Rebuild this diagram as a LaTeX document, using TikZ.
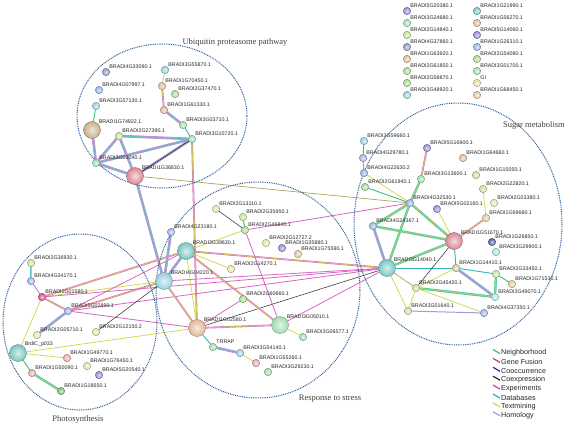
\documentclass[tikz,border=0pt]{standalone}
\usepackage{fontspec}
\setmainfont{Liberation Serif}
\setsansfont{Liberation Sans}
\usetikzlibrary{backgrounds}

%evidence colours
\definecolor{cNb}{HTML}{3CC070}
\definecolor{cFus}{HTML}{E0306A}
\definecolor{cCoo}{HTML}{2A2AA0}
\definecolor{cCox}{HTML}{25252F}
\definecolor{cExp}{HTML}{D040B0}
\definecolor{cDb}{HTML}{30B4C0}
\definecolor{cTxt}{HTML}{CCD840}
\definecolor{cHom}{HTML}{A898D8}
\definecolor{cOlv}{HTML}{A8A858}
\definecolor{cDot}{HTML}{2F5F9A}
%ball colours
\definecolor{cSlate}{HTML}{8898C8}
\definecolor{cSky}{HTML}{90B4DC}
\definecolor{cAqua}{HTML}{98D0DC}
\definecolor{cTan}{HTML}{C8AE88}
\definecolor{cLime}{HTML}{C8E0A0}
\definecolor{cMint}{HTML}{A0DCB0}
\definecolor{cRose}{HTML}{D88898}
\definecolor{cPeach}{HTML}{E0B898}
\definecolor{cLeaf}{HTML}{A8D890}
\definecolor{cYell}{HTML}{E4E2A8}
\definecolor{cBlue}{HTML}{A0B0E4}
\definecolor{cTeal}{HTML}{78C8C0}
\definecolor{cPurp}{HTML}{9088D4}
\definecolor{cPink}{HTML}{E8A8A8}
\definecolor{cMag}{HTML}{D04C84}
\definecolor{cNavy}{HTML}{505C9C}
\definecolor{cCyan}{HTML}{A8E4E8}
\definecolor{cOliv}{HTML}{D0CC98}
\definecolor{cGreen}{HTML}{70C070}
\definecolor{cSand}{HTML}{E0C8A0}

\tikzset{
	gene/.style={circle, inner sep=0pt, minimum size=7.5pt, inner color=#1!30!white, outer color=#1, draw=#1!60!black, line width=0.3pt},
	biggene/.style={gene=#1, minimum size=17pt},
	lab/.style={font=\fontsize{5.3}{5.3}\sffamily, inner sep=0.5pt, text=black!85},
	title/.style={font=\fontsize{8.5}{9}\selectfont, text=black!75},
	leg/.style={font=\fontsize{7.2}{7.2}\sffamily, inner sep=0.5pt, text=black!85},
	group/.style={draw=cDot, line width=1pt, dash pattern=on 0.9pt off 0.9pt},
	txtm/.style={draw=cTxt, line width=0.7pt},
	expe/.style={draw=cExp!80!white, line width=0.8pt},
	coex/.style={draw=cCox, line width=0.5pt},
	dbase/.style={draw=cDb, line width=0.9pt},
	nbhd/.style={draw=cNb, line width=0.9pt},
	homol/.style={draw=cHom, line width=1pt},
	olv/.style={draw=cOlv, line width=0.7pt},
	expx/.style={draw=cExp!70!white, line width=1.8pt, postaction={draw=cTxt, line width=0.6pt}},
	mixb/.style={draw=cHom, line width=2.6pt, postaction={draw=cExp!60!white, line width=1.7pt}, postaction={draw=cDb!80!white, line width=0.9pt}},
	grnb/.style={draw=cNb!80!white, line width=2.4pt, postaction={draw=cDb!80!white, line width=1.3pt}, postaction={draw=cTxt, line width=0.5pt}},
}

\begin{document}
\begin{tikzpicture}[x=1pt, y=-1pt]
		\useasboundingbox (0,0) rectangle (567,428);
		%draw group outlines
		\draw[group] (162,116) ellipse [x radius=85, y radius=72];
		\draw[group] (458,224) ellipse [x radius=104, y radius=121];
		\draw[group] (258,290) ellipse [x radius=102, y radius=108];
		\draw[group] (80,322) ellipse [x radius=77, y radius=88];
		\node[title] (tUbi) at (235,42) {Ubiquitin proteasome pathway};
		\node[title] (tSug) at (534,125) {Sugar metabolism};
		\node[title] (tRes) at (330,399) {Response to stress};
		\node[title] (tPho) at (78,419) {Photosynthesis};

		%ubiquitin proteasome pathway
		\node[gene=cSlate, label={[lab]north east:BRADI4G33090.1}] (u4G33090) at (106,72) {};
		\node[gene=cSky, label={[lab]north east:BRADI4G07997.1}] (u4G07997) at (99,90) {};
		\node[gene=cAqua, label={[lab]north east:BRADI3G57130.1}] (u3G57130) at (96,106) {};
		\node[biggene=cTan, label={[lab]north east:BRADI1G74922.1}] (u1G74922) at (92,130) {};
		\node[gene=cLime, label={[lab]north east:BRADI2G27390.1}] (u2G27390) at (119,136) {};
		\node[gene=cMint, label={[lab]north east:BRADI3G03040.1}] (u3G03040) at (96,163) {};
		\node[biggene=cRose, label={[lab]north east:BRADI1G36830.1}] (u1G36830) at (135,176) {};
		\node[gene=cMint, label={[lab]north east:BRADI3G10720.1}] (u3G10720) at (192,139) {};
		\node[gene=cMint, label={[lab]north east:BRADI3G03710.1}] (u3G03710) at (183,125) {};
		\node[gene=cPeach, label={[lab]north east:BRADI1G61330.1}] (u1G61330) at (164,110) {};
		\node[gene=cLeaf, label={[lab]north east:BRADI2G37470.1}] (u2G37470) at (175,94) {};
		\node[gene=cPeach, label={[lab]north east:BRADI1G70450.1}] (u1G70450) at (162,86) {};
		\node[gene=cAqua, label={[lab]north east:BRADI3G55870.1}] (u3G55870) at (165,70) {};

		%response to stress
		\node[gene=cYell, label={[lab]north east:BRADI2G13110.1}] (c2G13110) at (216,209) {};
		\node[gene=cLime, label={[lab]north east:BRADI2G35950.1}] (c2G35950) at (243,217) {};
		\node[gene=cLeaf, label={[lab]north east:BRADI2G46840.1}] (c2G46840) at (245,230) {};
		\node[gene=cBlue, label={[lab]north east:BRADI4G23180.1}] (c4G23180) at (171,232) {};
		\node[biggene=cTeal, label={[lab]north east:BRADI3G39630.1}] (c3G39630) at (186,251) {};
		\node[gene=cYell, label={[lab]north east:BRADI2G12727.2}] (c2G12727) at (266,243) {};
		\node[gene=cPurp, label={[lab]north east:BRADI1G35880.1}] (c1G35880) at (282,248) {};
		\node[gene=cSand, label={[lab]north east:BRADI1G75590.1}] (c1G75590) at (298,254) {};
		\node[gene=cYell, label={[lab]north east:BRADI2G14270.1}] (c2G14270) at (231,269) {};
		\node[biggene=cAqua, label={[lab]north east:BRADI4G04220.1}] (c4G04220) at (164,281) {};
		\node[gene=cLeaf, label={[lab]north east:BRADI2G60660.1}] (c2G60660) at (243,299) {};
		\node[biggene=cPeach, label={[lab]north east:BRADI1G02580.1}] (c1G02580) at (197,328) {};
		\node[biggene=cMint, label={[lab]north east:BRADI3G05010.1}] (c3G05010) at (280,325) {};
		\node[gene=cMint, label={[lab]north east:BRADI3G06577.1}] (c3G06577) at (303,337) {};
		\node[gene=cMint, label={[lab]north east:TRRAP}] (cTRRAP) at (213,347) {};
		\node[gene=cAqua, label={[lab]north east:BRADI3G54140.1}] (c3G54140) at (240,353) {};
		\node[gene=cPink, label={[lab]north east:BRADI1G55260.1}] (c1G55260) at (256,363) {};
		\node[gene=cMint, label={[lab]north east:BRADI3G29230.1}] (c3G29230) at (268,372) {};

		%photosynthesis
		\node[gene=cLime, label={[lab]north east:BRADI2G36930.1}] (p2G36930) at (31,263) {};
		\node[gene=cBlue, label={[lab]north east:BRADI4G34170.1}] (p4G34170) at (31,281) {};
		\node[gene=cMag, label={[lab]north east:BRADI1G01580.1}] (p1G01580) at (42,297) {};
		\node[gene=cBlue, label={[lab]north east:BRADI5G02890.1}] (p5G02890) at (68,311) {};
		\node[gene=cYell, label={[lab]north east:BRADI2G05710.1}] (p2G05710) at (37,335) {};
		\node[gene=cYell, label={[lab]north east:BRADI2G12150.2}] (p2G12150) at (96,332) {};
		\node[biggene=cTeal, label={[lab]north east:BrdiC\_p033}] (pBrdiC) at (18,353) {};
		\node[gene=cPink, label={[lab]north east:BRADI1G49770.1}] (p1G49770) at (67,358) {};
		\node[gene=cYell, label={[lab]north east:BRADI1G76450.1}] (p1G76450) at (87,366) {};
		\node[gene=cPurp, label={[lab]north east:BRADI5G20540.1}] (p5G20540) at (99,375) {};
		\node[gene=cPink, label={[lab]north east:BRADI1G50090.1}] (p1G50090) at (32,373) {};
		\node[gene=cGreen, label={[lab]north east:BRADI1G18650.1}] (p1G18650) at (61,391) {};

		%sugar metabolism
		\node[gene=cAqua, label={[lab]north east:BRADI3G59660.1}] (s3G59660) at (364,141) {};
		\node[gene=cBlue, label={[lab]north east:BRADI4G29780.1}] (s4G29780) at (363,158) {};
		\node[gene=cSky, label={[lab]north east:BRADI4G22630.2}] (s4G22630) at (364,173) {};
		\node[gene=cLeaf, label={[lab]north east:BRADI2G61940.1}] (s2G61940) at (365,187) {};
		\node[gene=cPurp, label={[lab]north east:BRADI5G16900.1}] (s5G16900) at (427,148) {};
		\node[gene=cPeach, label={[lab]north east:BRADI1G64660.1}] (s1G64660) at (463,158) {};
		\node[gene=cMint, label={[lab]north east:BRADI3G13600.1}] (s3G13600) at (421,179) {};
		\node[gene=cLime, label={[lab]north east:BRADI1G15050.1}] (s1G15050) at (476,175) {};
		\node[gene=cLime, label={[lab]north east:BRADI2G22820.1}] (s2G22820) at (483,189) {};
		\node[gene=cYell, label={[lab]north east:BRADI2G03380.1}] (s2G03380) at (494,203) {};
		\node[gene=cBlue, label={[lab]north east:BRADI4G32530.1}] (s4G32530) at (410,203) {};
		\node[gene=cPurp, label={[lab]north east:BRADI5G02160.1}] (s5G02160) at (437,209) {};
		\node[gene=cSand, label={[lab]north east:BRADI1G69680.1}] (s1G69680) at (486,218) {};
		\node[gene=cSky, label={[lab]north east:BRADI4G24367.1}] (s4G24367) at (373,226) {};
		\node[biggene=cRose, label={[lab]north east:BRADI1G51670.1}] (s1G51670) at (454,241) {};
		\node[gene=cNavy, label={[lab]north east:BRADI1G26850.1}] (s1G26850) at (492,242) {};
		\node[gene=cCyan, label={[lab]north east:BRADI3G29900.1}] (s3G29900) at (496,252) {};
		\node[biggene=cTeal, label={[lab]north east:BRADI3G14040.1}] (s3G14040) at (387,268) {};
		\node[gene=cOliv, label={[lab]north east:BRADI1G14410.1}] (s1G14410) at (456,268) {};
		\node[gene=cLime, label={[lab]north east:BRADI2G33450.1}] (s2G33450) at (496,274) {};
		\node[gene=cSand, label={[lab]north east:BRADI1G71530.1}] (s1G71530) at (512,284) {};
		\node[gene=cLime, label={[lab]north east:BRADI2G45420.1}] (s2G45420) at (416,288) {};
		\node[gene=cCyan, label={[lab]north east:BRADI3G49070.1}] (s3G49070) at (495,297) {};
		\node[gene=cLime, label={[lab]north east:BRADI3G01640.1}] (s3G01640) at (408,311) {};
		\node[gene=cBlue, label={[lab]north east:BRADI4G37350.1}] (s4G37350) at (484,313) {};

		%unconnected proteins
		\foreach \n/\c [count=\i from 0] in {BRADI5G20380.1/cPurp, BRADI3G24680.1/cMint, BRADI2G14840.1/cLime, BRADI4G37860.1/cSlate, BRADI1G63920.1/cPeach, BRADI2G61850.1/cLeaf, BRADI2G58870.1/cLeaf, BRADI3G48920.1/cAqua}{
			\node[gene=\c, label={[lab]north east:\n}] (la\i) at (407,{11+12*\i}) {};
		}
		\foreach \n/\c [count=\i from 0] in {BRADI1G21990.1/cTeal, BRADI1G56270.1/cPeach, BRADI5G14060.1/cPurp, BRADI1G26310.1/cSky, BRADI2G54080.1/cLeaf, BRADI3G01700.1/cMint, GI/cYell, BRADI1G68450.1/cSand}{
			\node[gene=\c, label={[lab]north east:\n}] (lb\i) at (477,{11+12*\i}) {};
		}

		%legend
		\foreach \t/\c [count=\i from 0] in {Neighborhood/cNb, Gene Fusion/cFus, Cooccurrence/cCoo, Coexpression/cCox, Experiments/cExp, Databases/cDb, Textmining/cTxt, Homology/cHom}{
			\draw[\c, line width=1.2pt] (493,{349.5+8.9*\i}) -- ++(7,4);
			\node[leg, anchor=west] (leg\i) at (500.5,{353+8.9*\i}) {\t};
		}

		%draw edges
		\begin{scope}[on background layer]
			\fill[white] (0,0) rectangle (567,428);
			%ubiquitin
			\draw[txtm] (u3G55870) -- (u1G70450);
			\draw[expx] (u1G70450) -- (u1G61330);
			\draw[mixb] (u1G61330) -- (u3G03710);
			\draw[dbase] (u3G03710) -- (u3G10720);
			\draw[nbhd] (u3G57130) -- (u1G74922);
			\draw[mixb] (u1G74922) -- (u3G03040);
			\draw[mixb] (u2G27390) -- (u3G10720);
			\draw[mixb] (u2G27390) -- (u3G03040);
			\draw[mixb] (u2G27390) -- (u1G36830);
			\draw[mixb] (u3G03040) -- (u3G10720);
			\draw[mixb] (u3G03040) -- (u1G36830);
			\draw[mixb] (u1G36830) -- (u3G10720);
			\draw[coex] (u1G36830) -- (u3G10720);
			%between groups
			\draw[expx] (u3G10720) -- (c1G02580);
			\draw[mixb] (u1G36830) -- (c4G04220);
			\draw[olv] (u1G36830) -- (s4G32530);
			\draw[expe] (c2G46840) -- (s4G32530);
			\draw[expx] (c3G39630) -- (s3G14040);
			\draw[expe] (c4G04220) -- (s3G14040);
			\draw[coex] (c1G02580) -- (s3G14040);
			\draw[expe] (c3G05010) -- (s3G14040);
			\draw[expx] (p1G01580) -- (c3G39630);
			\draw[txtm] (p1G01580) -- (c4G04220);
			\draw[expe] (p5G02890) -- (c3G39630);
			\draw[expx] (p5G02890) -- (c4G04220);
			\draw[expe] (p5G02890) -- (c1G02580);
			\draw[expe] (p5G02890) -- (s3G14040);
			\draw[expe] (p1G01580) -- (s3G14040);
			\draw[txtm] (pBrdiC) -- (c1G02580);
			\draw[coex] (p2G12150) -- (c4G04220);
			%response to stress
			\draw[coex] (c2G13110) -- (c2G46840);
			\draw[nbhd] (c2G35950) -- (c2G46840);
			\draw[txtm] (c2G46840) -- (c3G39630);
			\draw[expe] (c2G46840) -- (c3G05010);
			\draw[mixb] (c3G39630) -- (c4G04220);
			\draw[mixb] (c4G23180) -- (c4G04220);
			\draw[txtm] (c3G39630) -- (c2G14270);
			\draw[expx] (c3G39630) -- (c3G05010);
			\draw[txtm] (c3G39630) -- (c1G02580);
			\draw[expx] (c4G04220) -- (c1G02580);
			\draw[expx] (c1G02580) -- (c3G05010);
			\draw[expe] (c1G02580) -- (c2G60660);
			\draw[txtm] (c3G05010) -- (c3G06577);
			\draw[dbase] (c1G02580) -- (cTRRAP);
			\draw[mixb] (cTRRAP) -- (c3G54140);
			\draw[txtm] (c3G54140) -- (c1G55260);
			%photosynthesis
			\draw[grnb] (p2G36930) -- (p4G34170);
			\draw[homol] (p4G34170) -- (p1G01580);
			\draw[expx] (p1G01580) -- (p5G02890);
			\draw[mixb] (p5G02890) -- (p2G05710);
			\draw[txtm] (p1G01580) -- (pBrdiC);
			\draw[txtm] (pBrdiC) -- (p1G49770);
			\draw[nbhd] (pBrdiC) -- (p1G50090);
			\draw[grnb] (p1G50090) -- (p1G18650);
			%sugar metabolism
			\draw[dbase] (s3G59660) -- (s4G29780);
			\draw[homol] (s4G29780) -- (s4G22630);
			\draw[txtm] (s4G22630) -- (s4G32530);
			\draw[nbhd] (s2G61940) -- (s4G32530);
			\draw[expx] (s5G16900) -- (s3G13600);
			\draw[grnb] (s3G13600) -- (s4G32530);
			\draw[txtm] (s2G22820) -- (s1G69680);
			\draw[expx] (s1G69680) -- (s1G51670);
			\draw[grnb] (s4G32530) -- (s1G51670);
			\draw[grnb] (s4G32530) -- (s3G14040);
			\draw[grnb] (s4G32530) -- (s4G24367);
			\draw[grnb] (s4G24367) -- (s1G51670);
			\draw[mixb] (s4G24367) -- (s3G14040);
			\draw[grnb] (s3G14040) -- (s1G51670);
			\draw[txtm] (s5G02160) -- (s1G51670);
			\draw[dbase] (s3G14040) -- (s1G14410);
			\draw[dbase] (s1G51670) -- (s1G14410);
			\draw[coex] (s1G51670) -- (s2G45420);
			\draw[olv] (s3G14040) -- (s2G45420);
			\draw[txtm] (s3G14040) -- (s3G01640);
			\draw[txtm] (s1G14410) -- (s2G45420);
			\draw[dbase] (s1G14410) -- (s2G33450);
			\draw[mixb] (s1G14410) -- (s3G49070);
			\draw[grnb] (s2G33450) -- (s3G49070);
			\draw[nbhd] (s2G33450) -- (s1G71530);
			\draw[grnb] (s2G45420) -- (s3G49070);
			\draw[txtm] (s2G45420) -- (s3G01640);
			\draw[homol] (s3G01640) -- (s4G37350);
			\draw[txtm] (s2G45420) -- (s4G37350);
		\end{scope}
\end{tikzpicture}
\end{document}
